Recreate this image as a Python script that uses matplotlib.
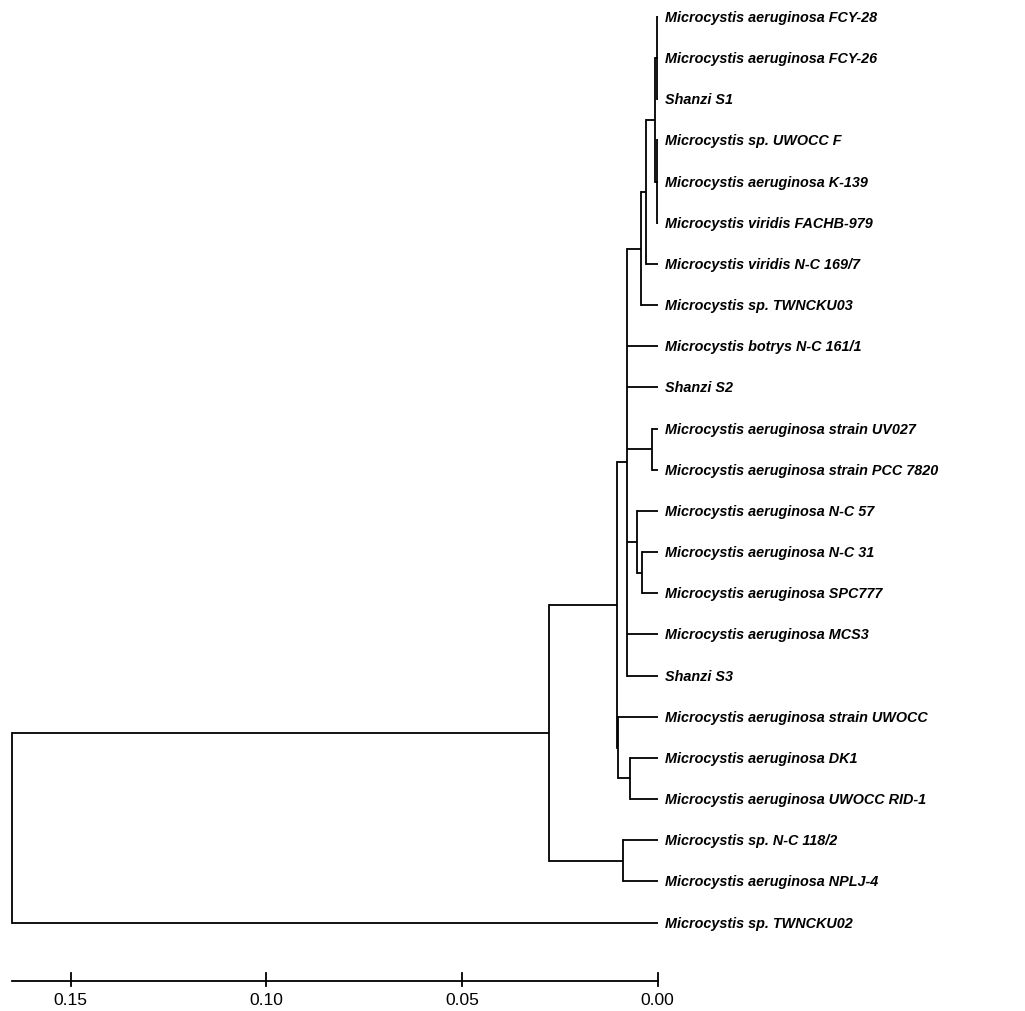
import matplotlib.pyplot as plt

# --- Hojas del árbol (de arriba a abajo) ---
leaves = [
    "Microcystis aeruginosa FCY-28",
    "Microcystis aeruginosa FCY-26",
    "Shanzi S1",
    "Microcystis sp. UWOCC F",
    "Microcystis aeruginosa K-139",
    "Microcystis viridis FACHB-979",
    "Microcystis viridis N-C 169/7",
    "Microcystis sp. TWNCKU03",
    "Microcystis botrys N-C 161/1",
    "Shanzi S2",
    "Microcystis aeruginosa strain UV027",
    "Microcystis aeruginosa strain PCC 7820",
    "Microcystis aeruginosa N-C 57",
    "Microcystis aeruginosa N-C 31",
    "Microcystis aeruginosa SPC777",
    "Microcystis aeruginosa MCS3",
    "Shanzi S3",
    "Microcystis aeruginosa strain UWOCC",
    "Microcystis aeruginosa DK1",
    "Microcystis aeruginosa UWOCC RID-1",
    "Microcystis sp. N-C 118/2",
    "Microcystis aeruginosa NPLJ-4",
    "Microcystis sp. TWNCKU02",
]

# --- Nodos internos: hijos (int = hoja, str = nodo) y altura ---
node_names = ["B", "D", "E", "C", "F", "L", "N", "M", "G", "P", "I", "H", "K", "J", "root"]
node_children = [
    [0, 1, 2],
    [3, 4, 5],
    ["B", "D"],
    ["E", 6],
    ["C", 7],
    [10, 11],
    [13, 14],
    [12, "N"],
    ["F", 8, 9, "L", "M", 15, 16],
    [18, 19],
    [17, "P"],
    ["G", "I"],
    [20, 21],
    ["H", "K"],
    ["J", 22],
]
node_heights = [0.0001, 0.0001, 0.0007, 0.0030, 0.0043, 0.0015, 0.0041, 0.0054,
                0.0078, 0.0071, 0.0101, 0.0105, 0.0089, 0.0277, 0.165]

scale_ticks = [0.15, 0.10, 0.05, 0.00]

tree = {n: (c, h) for n, c, h in zip(node_names, node_children, node_heights)}

plt.rcParams['font.family'] = ['Liberation Sans Narrow', 'Liberation Sans', 'DejaVu Sans']

fig = plt.figure(figsize=(10.25, 10.12), dpi=100)
ax = fig.add_axes([0, 0, 1, 1])
ax.set_xlim(0.1681, -0.0939)
ax.set_ylim(24.15, -0.437)
ax.axis('off')

LW = 1.3


def draw(node):
    """Dibuja el subárbol y devuelve (x, y) del nodo."""
    if isinstance(node, int):
        return 0.0, node
    children, h = tree[node]
    pts = [draw(c) for c in children]
    ys = [p[1] for p in pts]
    for cx, cy in pts:
        ax.plot([h, cx], [cy, cy], color='black', lw=LW, solid_capstyle='butt')
    ax.plot([h, h], [min(ys), max(ys)], color='black', lw=LW, solid_capstyle='projecting')
    return h, (min(ys) + max(ys)) / 2


draw("root")

for i, name in enumerate(leaves):
    ax.annotate(name, xy=(0, i), xytext=(5, 0), textcoords='offset points',
                va='center', ha='left', fontsize=10.4, fontweight='bold',
                fontstyle='italic', color='black')

# --- Barra de escala ---
ybar = 23.43
ax.plot([tree["root"][1], 0], [ybar, ybar], color='black', lw=LW)
for t in scale_ticks:
    ax.plot([t, t], [ybar - 0.2, ybar + 0.12], color='black', lw=LW)
    ax.text(t, ybar + 0.45, f"{t:.2f}", ha='center', va='center', fontsize=12.5)

fig.savefig('out.png', dpi=100)
